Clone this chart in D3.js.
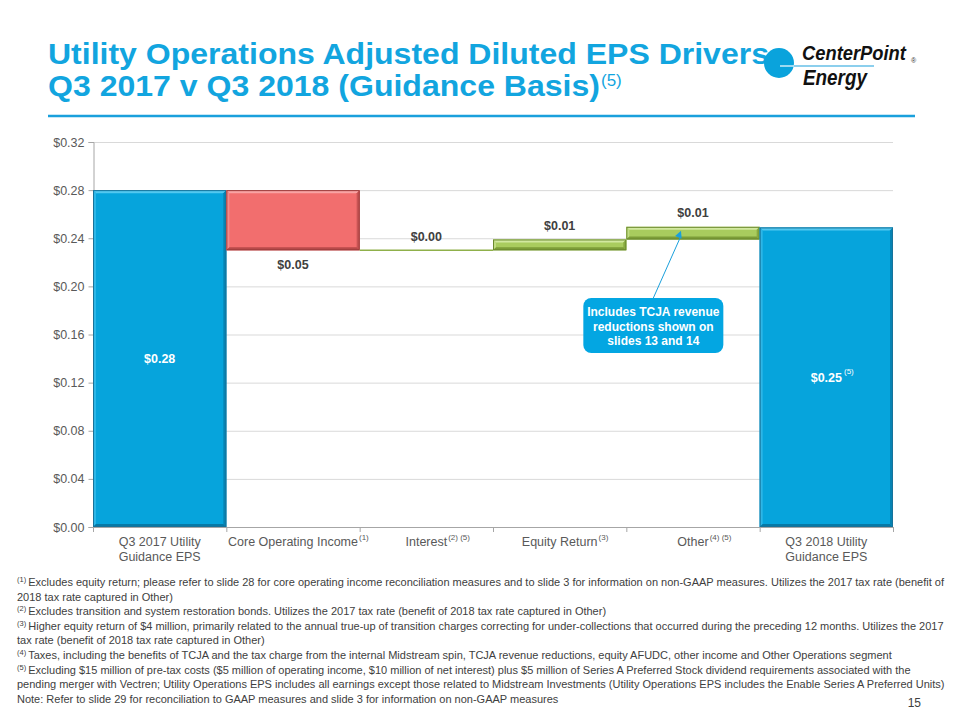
<!DOCTYPE html>
<html>
<head>
<meta charset="utf-8">
<script src="https://cdn.jsdelivr.net/npm/d3@7"></script>
<style>
  html, body { margin: 0; padding: 0; background: #ffffff; }
  svg { display: block; font-family: "Liberation Sans", Arial, sans-serif; }
</style>
</head>
<body>
<svg id="chart" width="960" height="720"></svg>
<script>
// ---------------- DATA ----------------
const categories = ["Q3 2017 Utility|Guidance EPS", "Core Operating Income", "Interest", "Equity Return", "Other", "Q3 2018 Utility|Guidance EPS"];
const categoryNotes = ["", "(1)", "(2) (5)", "(3)", "(4) (5)", ""];
const startValue = 0.28;
const driverDeltas = [-0.05, 0.00, 0.009, 0.0105];
const endValue = 0.249;
const valueLabels = ["$0.28", "$0.05", "$0.00", "$0.01", "$0.01", "$0.25"];
const valueLabelNotes = ["", "", "", "", "", "(5)"];
const yTicks = [0, 0.04, 0.08, 0.12, 0.16, 0.20, 0.24, 0.28, 0.32];
const titleLines = ["Utility Operations Adjusted Diluted EPS Drivers", "Q3 2017 v Q3 2018 (Guidance Basis)"];
const titleNote = "(5)";
const calloutLines = ["Includes TCJA revenue", "reductions shown on", "slides 13 and 14"];
const footnotes = [
  ["(1)", "Excludes equity return; please refer to slide 28 for core operating income reconciliation measures and to slide 3 for information on non-GAAP measures. Utilizes the 2017 tax rate (benefit of"],
  ["", "2018 tax rate captured in Other)"],
  ["(2)", "Excludes transition and system restoration bonds.  Utilizes the 2017 tax rate (benefit of 2018 tax rate captured in Other)"],
  ["(3)", "Higher equity return of $4 million, primarily related to the annual true-up of transition charges correcting for under-collections that occurred during the preceding 12 months. Utilizes the 2017"],
  ["", "tax rate (benefit of 2018 tax rate captured in Other)"],
  ["(4)", "Taxes, including the benefits of TCJA and the tax charge from the internal Midstream spin, TCJA revenue reductions, equity AFUDC, other income and Other Operations segment"],
  ["(5)", "Excluding $15 million of pre-tax costs ($5 million of operating income, $10 million of net interest) plus $5 million of Series A Preferred Stock dividend requirements associated with the"],
  ["", "pending merger with Vectren; Utility Operations EPS includes all earnings except those related to Midstream Investments (Utility Operations EPS includes the Enable Series A Preferred Units)"],
  ["", "Note: Refer to slide 29 for reconciliation to GAAP measures and slide 3 for information on non-GAAP measures"]
];
const pageNumber = "15";

// ---------------- LAYOUT ----------------
const svg = d3.select("#chart");
const plot = { left: 93, right: 893, top: 142, bottom: 527 };
const BLUE = "#12a5df";
const TEXT = "#404040";
const AXIS_TEXT = "#595959";

const x = d3.scaleBand().domain(categories).range([plot.left, plot.right]).padding(0);
const y = d3.scaleLinear().domain([0, 0.32]).range([plot.bottom, plot.top]);

// Build waterfall segments
const segs = [];
segs.push({ cat: categories[0], y0: 0, y1: startValue, kind: "total" });
let run = startValue;
driverDeltas.forEach((d, i) => {
  const from = run; run = run + d;
  segs.push({ cat: categories[i + 1], y0: Math.min(from, run), y1: Math.max(from, run), delta: d, kind: d < 0 ? "neg" : (d > 0 ? "pos" : "zero") });
});
segs.push({ cat: categories[5], y0: 0, y1: endValue, kind: "total" });

// ---------------- TITLE ----------------
const title = svg.append("g");
title.append("text").attr("x", 48).attr("y", 64)
  .attr("font-size", 30).attr("font-weight", "bold").attr("fill", BLUE)
  .attr("textLength", 721).attr("lengthAdjust", "spacingAndGlyphs")
  .text(titleLines[0]);
const t2 = title.append("text").attr("x", 48).attr("y", 96)
  .attr("font-size", 30).attr("font-weight", "bold").attr("fill", BLUE);
t2.append("tspan").attr("textLength", 552).attr("lengthAdjust", "spacingAndGlyphs").text(titleLines[1]);
t2.append("tspan").attr("font-size", 17).attr("font-weight", "normal").attr("dx", 1).attr("dy", -10).text(titleNote);

svg.append("line").attr("x1", 48).attr("x2", 915).attr("y1", 116).attr("y2", 116)
  .attr("stroke", "#1aa0dc").attr("stroke-width", 2.5);

// ---------------- LOGO ----------------
const logo = svg.append("g");
logo.append("line").attr("x1", 779).attr("x2", 874).attr("y1", 66).attr("y2", 66).attr("stroke", "#1aa0dc").attr("stroke-width", 1.2);
logo.append("circle").attr("cx", 779).attr("cy", 63).attr("r", 15).attr("fill", "#0aa3dc");
logo.append("line").attr("x1", 780).attr("x2", 794).attr("y1", 66).attr("y2", 66).attr("stroke", "#ffffff").attr("stroke-width", 1.2);
function condensedText(txt, x0, y0, size, targetW) {
  const t = logo.append("text").attr("x", 0).attr("y", 0).attr("font-size", size).attr("font-weight", "bold")
    .attr("font-style", "italic").attr("fill", "#111").text(txt);
  const w = t.node().getComputedTextLength();
  t.attr("transform", `translate(${x0},${y0}) scale(${targetW / w},1)`);
}
condensedText("CenterPoint", 802, 60, 21, 104);
condensedText("Energy", 803, 85, 22, 64);
logo.append("text").attr("x", 911).attr("y", 63).attr("font-size", 7).attr("fill", "#333").text("®");

// ---------------- GRID & AXES ----------------
const grid = svg.append("g");
grid.selectAll("line").data(yTicks.filter(v => v > 0)).join("line")
  .attr("x1", plot.left).attr("x2", plot.right)
  .attr("y1", d => y(d) + 0.5).attr("y2", d => y(d) + 0.5)
  .attr("stroke", "#d9d9d9").attr("stroke-width", 1);

const yAxis = svg.append("g").attr("transform", `translate(${plot.left + 0.5},0)`)
  .call(d3.axisLeft(y).tickValues(yTicks).tickFormat(d => "$" + d.toFixed(2)).tickSize(5).tickPadding(4));
yAxis.select(".domain").attr("stroke", "#a6a6a6");
yAxis.selectAll(".tick line").attr("stroke", "#a6a6a6");
yAxis.selectAll(".tick text").attr("font-size", 12.5).attr("fill", AXIS_TEXT).attr("font-family", "Liberation Sans, Arial, sans-serif");

// ---------------- BARS ----------------
const palette = {
  total: { main: "#06a4dc", top: "#52c8f0", left: "#2db6e7", right: "#0683b3", bottom: "#0679a6", stroke: "#17729a" },
  neg:   { main: "#f26e6e", top: "#f9a3a3", left: "#f58a8a", right: "#c85454", bottom: "#b84a4a", stroke: "#9b3b3b" },
  pos:   { main: "#a9cc5e", top: "#d2e8a0", left: "#c0dc82", right: "#88aa40", bottom: "#7d9d38", stroke: "#6b8a2e" }
};

const bars = svg.append("g");
segs.forEach(s => {
  const x0 = x(s.cat), x1 = x(s.cat) + x.bandwidth();
  if (s.kind === "zero") {
    bars.append("line").attr("x1", x0).attr("x2", x1).attr("y1", y(s.y0)).attr("y2", y(s.y0))
      .attr("stroke", "#8fb04a").attr("stroke-width", 1.5);
    return;
  }
  const yt = y(s.y1), yb = y(s.y0);
  const c = palette[s.kind];
  const g = bars.append("g");
  const b = Math.min(3, (yb - yt) / 3);
  g.append("rect").attr("x", x0).attr("y", yt).attr("width", x1 - x0).attr("height", yb - yt).attr("fill", c.main);
  g.append("polygon").attr("points", [[x0, yt], [x1, yt], [x1 - b, yt + b], [x0 + b, yt + b]].join(" ")).attr("fill", c.top);
  g.append("polygon").attr("points", [[x0, yt], [x0 + b, yt + b], [x0 + b, yb - b], [x0, yb]].join(" ")).attr("fill", c.left);
  g.append("polygon").attr("points", [[x1, yt], [x1, yb], [x1 - b, yb - b], [x1 - b, yt + b]].join(" ")).attr("fill", c.right);
  g.append("polygon").attr("points", [[x0, yb], [x1, yb], [x1 - b, yb - b], [x0 + b, yb - b]].join(" ")).attr("fill", c.bottom);
  g.append("rect").attr("x", x0 + 0.5).attr("y", yt + 0.5).attr("width", x1 - x0 - 1).attr("height", yb - yt - 1)
    .attr("fill", "none").attr("stroke", c.stroke).attr("stroke-width", 1);
});

// x axis (drawn over bars)
const xAxisG = svg.append("g");
xAxisG.append("line").attr("x1", plot.left).attr("x2", plot.right).attr("y1", plot.bottom + 0.5).attr("y2", plot.bottom + 0.5)
  .attr("stroke", "#a6a6a6");
const bounds = categories.map(c => x(c)).concat([plot.right]);
xAxisG.selectAll("line.tk").data(bounds).join("line").attr("class", "tk")
  .attr("x1", d => d + 0.5).attr("x2", d => d + 0.5).attr("y1", plot.bottom).attr("y2", plot.bottom + 5)
  .attr("stroke", "#a6a6a6");

// x labels
categories.forEach((c, i) => {
  const cx = x(c) + x.bandwidth() / 2;
  const lines = c.split("|");
  lines.forEach((ln, j) => {
    const t = svg.append("text").attr("x", cx).attr("y", 546 + j * 15).attr("text-anchor", "middle")
      .attr("font-size", 12.5).attr("fill", AXIS_TEXT).text(ln);
    if (j === 0 && categoryNotes[i]) {
      const w = t.node().getComputedTextLength();
      svg.append("text").attr("x", cx + w / 2 + 1).attr("y", 540).attr("font-size", 8).attr("fill", AXIS_TEXT).text(categoryNotes[i]);
    }
  });
});

// value labels
segs.forEach((s, i) => {
  const cx = x(s.cat) + x.bandwidth() / 2;
  let ly, fill = TEXT;
  if (s.kind === "total") { ly = y((s.y0 + s.y1) / 2); fill = "#ffffff"; }
  else if (s.kind === "neg") { ly = y(s.y0) + 14; }
  else { ly = y(s.y1) - 14; }
  const t = svg.append("text").attr("x", cx).attr("y", ly).attr("dy", "0.35em").attr("text-anchor", "middle")
    .attr("font-size", 12.5).attr("font-weight", "bold").attr("fill", fill).text(valueLabels[i]);
  if (valueLabelNotes[i]) {
    const w = t.node().getComputedTextLength();
    svg.append("text").attr("x", cx + w / 2 + 2).attr("y", ly - 3).attr("font-size", 8).attr("fill", fill).text(valueLabelNotes[i]);
  }
});

// ---------------- CALLOUT ----------------
const otherX = x(categories[4]);
const bw = x.bandwidth();
const cb = { x: otherX - 43, y: 298, w: 140, h: 55 };
const tipX = otherX + bw * 0.41, tipY = y(run) + 4;
const fromX = cb.x + cb.w / 2, fromY = cb.y;
svg.append("line").attr("x1", fromX).attr("y1", fromY).attr("x2", tipX).attr("y2", tipY + 5)
  .attr("stroke", "#1aa0dc").attr("stroke-width", 1);
const ang = Math.atan2(tipY - fromY, tipX - fromX);
const ah = 7, aw = 3.5;
const p1 = [tipX, tipY];
const bx = tipX - ah * Math.cos(ang), by = tipY - ah * Math.sin(ang);
const p2 = [bx + aw * Math.sin(ang), by - aw * Math.cos(ang)];
const p3 = [bx - aw * Math.sin(ang), by + aw * Math.cos(ang)];
svg.append("polygon").attr("points", [p1, p2, p3].join(" ")).attr("fill", "#1aa0dc");
svg.append("rect").attr("x", cb.x).attr("y", cb.y).attr("width", cb.w).attr("height", cb.h).attr("rx", 8)
  .attr("fill", "#03a6e2");
calloutLines.forEach((ln, i) => {
  svg.append("text").attr("x", cb.x + cb.w / 2).attr("y", cb.y + 18 + i * 14.5).attr("text-anchor", "middle")
    .attr("font-size", 12).attr("font-weight", "bold").attr("fill", "#ffffff").text(ln);
});

// ---------------- FOOTNOTES ----------------
const fn = svg.append("g");
const fnLeft = 17;
const fnTexts = [];
footnotes.forEach((f, i) => {
  const t = fn.append("text").attr("x", fnLeft).attr("y", 586 + i * 14.6).attr("font-size", 11).attr("fill", TEXT);
  if (f[0]) { t.append("tspan").attr("font-size", 7.5).attr("dy", -4).text(f[0] + " "); t.append("tspan").attr("dy", 4).text(f[1]); }
  else t.append("tspan").text(f[1]);
  fnTexts.push(t);
});
const natural = fnTexts[0].node().getComputedTextLength();
const sx = Math.min(1, (952 - fnLeft) / natural);
fn.attr("transform", `translate(${fnLeft},0) scale(${sx},1) translate(${-fnLeft},0)`);

svg.append("text").attr("x", 921).attr("y", 707).attr("text-anchor", "end").attr("font-size", 12).attr("fill", TEXT).text(pageNumber);
</script>
</body>
</html>
